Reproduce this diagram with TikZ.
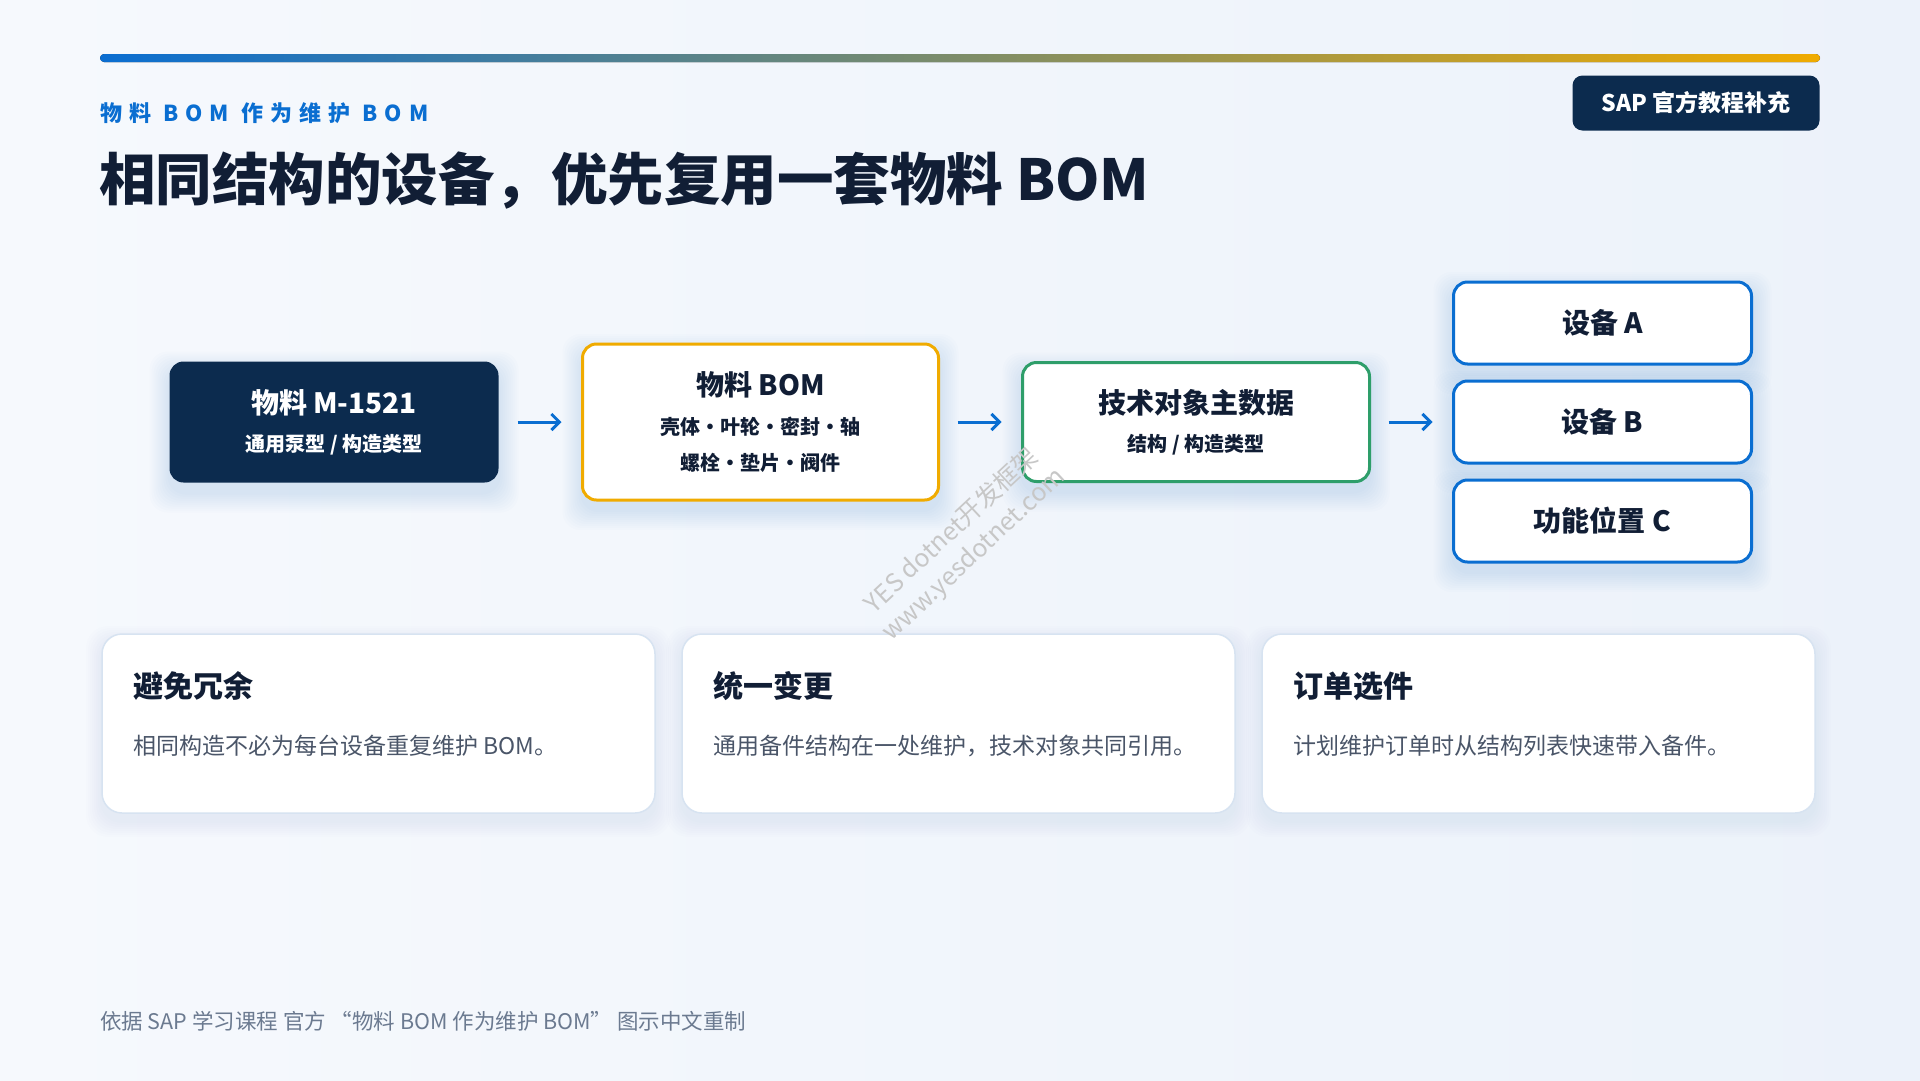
\documentclass[tikz,border=0pt]{standalone}
\usepackage{fontspec}
\setmainfont{Noto Sans CJK SC}
\usetikzlibrary{arrows.meta, positioning}

\definecolor{navy}{HTML}{0C2B4E}
\definecolor{ink}{HTML}{111E35}
\definecolor{sapblue}{HTML}{0A6ED1}
\definecolor{sapgreen}{HTML}{2E9E6A}
\definecolor{saporange}{HTML}{F0AB00}
\definecolor{bodygray}{HTML}{4A5568}
\definecolor{footgray}{HTML}{6B7A90}
\definecolor{cardline}{HTML}{D7E3F1}
\definecolor{bgleft}{HTML}{F6F9FD}
\definecolor{bgright}{HTML}{ECF2FA}

\newcommand{\fsz}[2]{\fontsize{#1}{#2}\selectfont}

\pgfdeclarelayer{back}
\pgfdeclarelayer{glow}
\pgfsetlayers{back,glow,main}

\begin{document}
\begin{tikzpicture}[
            x = 1pt, y = -1pt, % one unit per pixel, y grows downwards
            > = {Straight Barb[length=8pt, width=16pt]}, % arrow head style
            node distance = 84pt, % gap between the flow boxes
            text = ink
        ]

        \tikzstyle{box}=[
            rounded corners = 14pt,
            line width = 3pt,
            fill = white,
            align = center,
            inner sep = 0pt,
            outer sep = 0pt,
            font = \fsz{20}{38}\bfseries % line pitch inside the box
        ]
        \tikzstyle{matbox}=[box, fill = navy, text = white, minimum width = 329pt, minimum height = 121pt]
        \tikzstyle{bombox}=[box, draw = saporange, minimum width = 356pt, minimum height = 156pt,
            font = \fsz{20}{36}\bfseries]
        \tikzstyle{techbox}=[box, draw = sapgreen, minimum width = 347pt, minimum height = 119pt]
        \tikzstyle{objbox}=[box, draw = sapblue, minimum width = 298pt, minimum height = 82pt,
            font = \fsz{28}{34}\bfseries]
        \tikzstyle{card}=[
            rounded corners = 20pt,
            fill = white,
            draw = cardline,
            line width = 1.5pt,
            minimum width = 553pt,
            minimum height = 179pt,
            outer sep = 0pt
        ]
        \tikzstyle{cardhead}=[anchor = west, inner sep = 0pt, font = \fsz{30}{36}\bfseries]
        \tikzstyle{cardtext}=[anchor = west, inner sep = 0pt, text = bodygray, font = \fsz{23}{28}]
        \tikzstyle{flow}=[->, draw = sapblue, line width = 3pt, shorten > = 21pt, shorten < = 19pt]

        % page background and top rule
        \useasboundingbox (0,0) rectangle (1920,1080);
        \begin{pgfonlayer}{back}
            \fill[left color = bgleft, right color = bgright] (0,0) rectangle (1920,1080);
        \end{pgfonlayer}
        \fill[rounded corners = 4pt, left color = sapblue, middle color = sapgreen, right color = saporange]
            (100,54) rectangle (1820,62);

        % heading
        \node[anchor = west, inner sep = 0pt, text = sapblue, font = \fsz{22}{26}\bfseries\addfontfeatures{LetterSpace=32}]
            (kicker) at (100,113) {物料 BOM 作为维护 BOM};
        \node[anchor = west, inner sep = 0pt, font = \fsz{56.5}{62}\bfseries]
            (title) at (99,181) {相同结构的设备，优先复用一套物料 BOM};
        \node[fill = navy, text = white, rounded corners = 10pt, minimum width = 247pt, minimum height = 55pt,
            font = \fsz{23}{28}\bfseries] (tag) at (1696,103) {SAP 官方教程补充};

        % flow: material -> BOM -> technical object -> objects
        \node[matbox] (mat) at (334,422)
            {\fsz{28}{38}物料 M-1521\\通用泵型 / 构造类型};
        \node[bombox, right = of mat] (bom)
            {\fsz{28}{36}物料 BOM\\[3pt]壳体·叶轮·密封·轴\\螺栓·垫片·阀件};
        \node[techbox, right = of bom] (tech)
            {\fsz{28}{38}技术对象主数据\\结构 / 构造类型};
        \node[objbox, right = of tech] (eqB) {设备 B};
        \node[objbox, above = 17pt of eqB] (eqA) {设备 A};
        \node[objbox, below = 17pt of eqB] (flC) {功能位置 C};

        \draw[flow] (mat) -- (bom);
        \draw[flow] (bom) -- (tech);
        \draw[flow] (tech) -- (eqB);

        % benefit cards
        \node[card] (avoid) at (378.5,723.5) {};
        \node[card, right = 27pt of avoid] (unify) {};
        \node[card, right = 27pt of unify] (pick) {};

        \node[cardhead] (avoidT) at ([xshift=31pt, yshift=-52pt]avoid.north west) {避免冗余};
        \node[cardtext] (avoidB) at ([xshift=31pt, yshift=-112pt]avoid.north west) {相同构造不必为每台设备重复维护 BOM。};
        \node[cardhead] (unifyT) at ([xshift=31pt, yshift=-52pt]unify.north west) {统一变更};
        \node[cardtext] (unifyB) at ([xshift=31pt, yshift=-112pt]unify.north west) {通用备件结构在一处维护，技术对象共同引用。};
        \node[cardhead] (pickT) at ([xshift=31pt, yshift=-52pt]pick.north west) {订单选件};
        \node[cardtext] (pickB) at ([xshift=31pt, yshift=-112pt]pick.north west) {计划维护订单时从结构列表快速带入备件。};

        % soft glow under boxes and cards
        \begin{pgfonlayer}{glow}
            \foreach \n in {mat, bom, tech, eqA, eqB, flC}
                \foreach \i in {2,4,...,20}
                    \fill[sapblue, opacity = 0.011, rounded corners = 18pt]
                        ([xshift=-\i pt, yshift=\i pt-10pt]\n.north west) rectangle ([xshift=\i pt, yshift=-\i pt-10pt]\n.south east);
            \foreach \n in {avoid, unify, pick}
                \foreach \i in {2,4,...,16}
                    \fill[sapblue, opacity = 0.008, rounded corners = 22pt]
                        ([xshift=-\i pt, yshift=\i pt-8pt]\n.north west) rectangle ([xshift=\i pt, yshift=-\i pt-8pt]\n.south east);
        \end{pgfonlayer}

        % watermark
        \node[rotate = 43, text = black!22, align = center, font = \fsz{25}{32}]
            (wm) at (963,543) {YES dotnet开发框架\\www.yesdotnet.com};

        % source line
        \node[anchor = west, inner sep = 0pt, text = footgray, font = \fsz{21.5}{26}]
            (src) at (100,1021) {依据 SAP 学习课程 官方 “物料 BOM 作为维护 BOM” 图示中文重制};

    \end{tikzpicture}
\end{document}
